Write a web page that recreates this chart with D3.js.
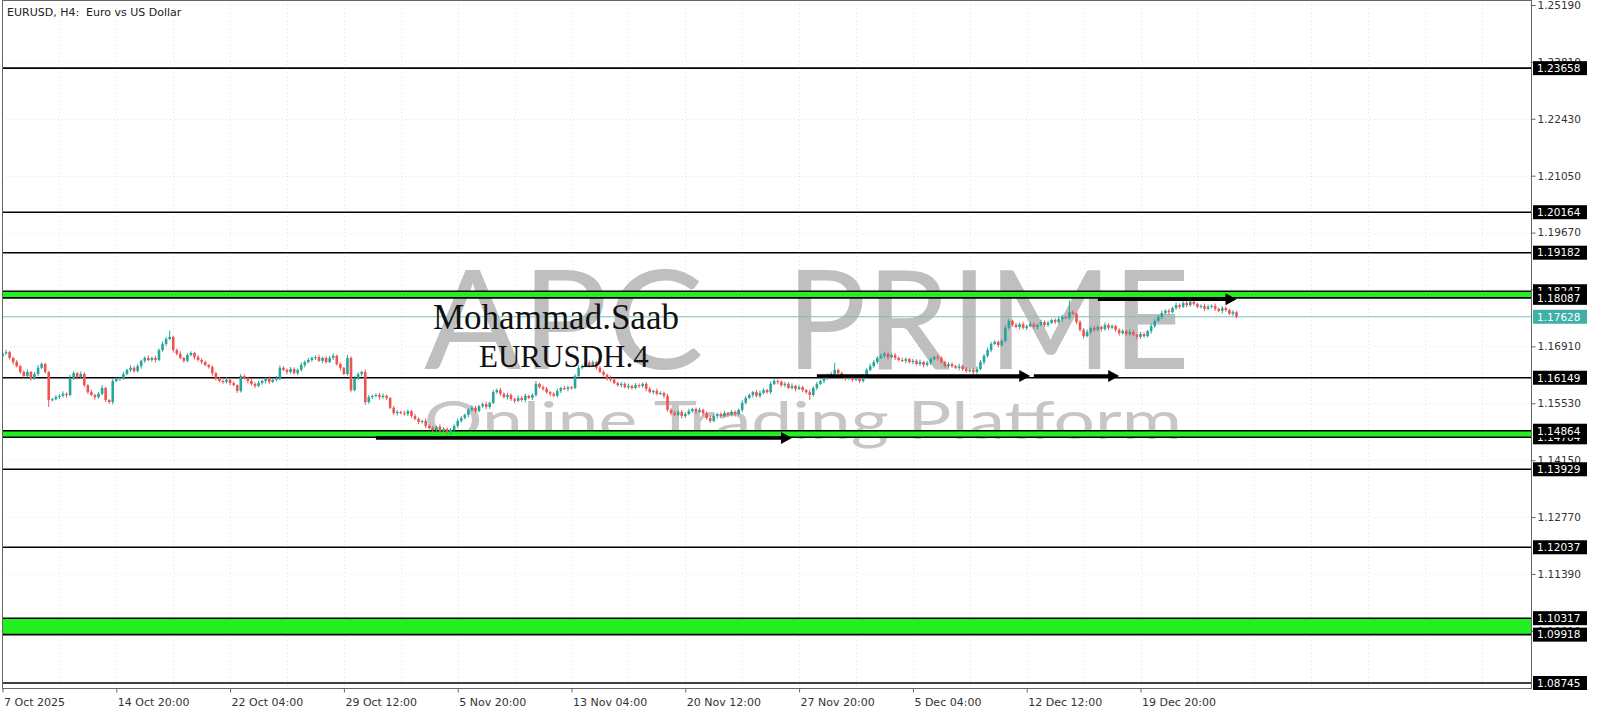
<!DOCTYPE html>
<html>
<head>
<meta charset="utf-8">
<script src="https://cdn.jsdelivr.net/npm/d3@7"></script>
<style>
  body { margin: 0; background: #fff; }
  svg { display: block; font-family: "DejaVu Sans", sans-serif; }
</style>
</head>
<body>
<div id="chart"></div>
<script>
// EURUSD H4 closes
var closes = [
  1.1675,1.1677,1.1663,1.1653,1.1643,1.1629,1.1619,1.1629,1.1614,1.1624,1.1639,1.1648,1.1629,1.1561,1.1563,1.1568,1.1571,1.1576,1.1573,1.1614,
  1.1626,1.1617,1.1624,1.1597,1.1580,1.1573,1.1568,1.1576,1.1590,1.1561,1.1556,1.1607,1.1612,1.1614,1.1624,1.1634,1.1639,1.1631,1.1643,1.1656,
  1.1663,1.1658,1.1663,1.1658,1.1682,1.1697,1.1709,1.1714,1.1682,1.1673,1.1663,1.1656,1.1670,1.1675,1.1665,1.1658,1.1653,1.1646,1.1641,1.1626,
  1.1612,1.1607,1.1605,1.1610,1.1602,1.1597,1.1583,1.1619,1.1614,1.1607,1.1600,1.1595,1.1602,1.1607,1.1612,1.1605,1.1610,1.1614,1.1639,1.1634,
  1.1629,1.1636,1.1626,1.1634,1.1646,1.1653,1.1658,1.1663,1.1665,1.1656,1.1663,1.1653,1.1663,1.1668,1.1648,1.1639,1.1624,1.1663,1.1585,1.1614,
  1.1624,1.1629,1.1556,1.1568,1.1571,1.1573,1.1568,1.1571,1.1566,1.1542,1.1529,1.1532,1.1529,1.1527,1.1534,1.1522,1.1515,1.1508,1.1510,1.1498,
  1.1493,1.1488,1.1496,1.1486,1.1491,1.1483,1.1488,1.1498,1.1510,1.1517,1.1525,1.1537,1.1542,1.1534,1.1546,1.1551,1.1544,1.1554,1.1580,1.1585,
  1.1576,1.1568,1.1573,1.1563,1.1559,1.1566,1.1561,1.1571,1.1566,1.1573,1.1600,1.1592,1.1588,1.1580,1.1576,1.1571,1.1583,1.1590,1.1588,1.1592,
  1.1590,1.1619,1.1639,1.1643,1.1651,1.1646,1.1653,1.1639,1.1629,1.1622,1.1614,1.1610,1.1602,1.1597,1.1600,1.1592,1.1595,1.1590,1.1597,1.1595,
  1.1600,1.1588,1.1580,1.1583,1.1576,1.1578,1.1571,1.1537,1.1529,1.1525,1.1532,1.1522,1.1527,1.1534,1.1539,1.1532,1.1537,1.1529,1.1517,1.1510,
  1.1522,1.1527,1.1522,1.1529,1.1525,1.1532,1.1527,1.1537,1.1554,1.1566,1.1573,1.1580,1.1571,1.1578,1.1585,1.1580,1.1600,1.1607,1.1605,1.1597,
  1.1600,1.1590,1.1595,1.1588,1.1592,1.1585,1.1580,1.1573,1.1590,1.1600,1.1607,1.1614,1.1619,1.1624,1.1634,1.1626,1.1619,1.1614,1.1617,1.1610,
  1.1614,1.1607,1.1619,1.1634,1.1643,1.1653,1.1663,1.1668,1.1673,1.1665,1.1670,1.1663,1.1658,1.1656,1.1660,1.1653,1.1656,1.1648,1.1653,1.1646,
  1.1651,1.1660,1.1665,1.1663,1.1653,1.1643,1.1648,1.1643,1.1639,1.1643,1.1636,1.1631,1.1634,1.1629,1.1636,1.1653,1.1668,1.1682,1.1697,1.1702,
  1.1694,1.1704,1.1736,1.1753,1.1743,1.1738,1.1745,1.1736,1.1740,1.1745,1.1738,1.1743,1.1750,1.1743,1.1748,1.1755,1.1750,1.1757,1.1762,1.1760,
  1.1774,1.1770,1.1750,1.1731,1.1716,1.1726,1.1736,1.1731,1.1738,1.1733,1.1743,1.1736,1.1740,1.1731,1.1723,1.1728,1.1721,1.1726,1.1719,1.1714,
  1.1721,1.1716,1.1728,1.1740,1.1753,1.1762,1.1772,1.1777,1.1774,1.1784,1.1791,1.1787,1.1796,1.1791,1.1799,1.1794,1.1787,1.1789,1.1782,1.1787,
  1.1789,1.1782,1.1777,1.1784,1.1779,1.1770,1.1774,1.1763
];
var firstOpen = 1.1666;

// wick lengths in pips (0.0001), above and below the body
var wickUp = [
  4,6,3,2,5,3,4,6,2,5,7,4,3,2,3,5,4,6,3,8,
  5,3,6,4,2,5,3,4,7,3,2,6,4,3,5,3,6,4,5,3,
  4,6,3,5,4,6,5,15,3,4,6,2,5,4,3,5,4,3,2,4,
  3,5,4,6,3,4,2,5,4,3,6,4,5,3,4,6,3,5,6,4,
  3,5,4,3,6,4,5,3,4,6,3,4,5,6,3,4,2,7,4,5,
  4,3,6,5,3,4,5,6,3,2,4,5,3,6,4,3,5,4,3,6,
  4,5,3,6,4,3,5,4,6,5,3,4,6,5,3,4,6,3,5,4,
  6,3,5,4,3,6,4,5,3,4,7,3,4,5,3,4,6,3,5,4,
  3,5,6,4,7,5,4,3,5,4,3,6,4,3,5,4,6,3,5,4,
  3,5,4,3,6,4,3,5,4,6,3,5,4,6,3,4,5,3,4,6,
  5,3,4,6,3,5,4,3,6,5,4,3,5,6,4,3,6,5,4,3,
  5,4,6,3,5,4,3,6,4,5,3,4,6,5,17,3,4,5,3,6,
  4,3,5,4,6,5,4,6,5,3,4,5,3,6,4,3,5,4,6,3,
  5,4,3,6,4,3,5,4,3,6,4,5,3,4,6,5,4,6,5,4,
  3,5,6,4,3,5,4,6,3,5,4,3,6,4,5,3,4,6,5,4,
  29,4,3,5,4,6,3,5,4,3,6,4,5,3,4,5,3,6,4,3,
  5,4,3,6,4,5,6,4,5,3,6,4,5,7,4,5,3,4,6,5,
  4,6,3,5,4,3,5,3
];
var wickDown = [
  3,5,4,6,3,5,4,3,6,4,5,3,4,17,4,3,5,4,6,3,
  4,6,3,5,4,3,6,4,3,5,4,6,3,5,4,3,5,4,3,6,
  5,3,4,6,3,4,5,3,6,4,3,5,4,3,6,4,5,3,4,6,
  4,3,5,4,6,3,5,4,3,6,4,5,3,4,6,5,3,4,5,3,
  6,4,3,5,4,6,3,4,5,3,6,4,3,5,4,6,3,4,5,3,
  4,6,7,4,5,3,6,4,5,3,4,6,3,4,5,4,3,6,4,5,
  3,6,4,5,3,4,6,3,5,4,3,6,4,5,3,4,6,5,3,4,
  5,3,6,4,5,3,4,6,3,5,4,3,5,4,6,3,4,5,3,6,
  4,3,5,4,3,6,4,5,3,4,6,5,3,4,6,3,5,4,3,5,
  4,6,3,5,4,3,6,4,5,3,4,6,5,3,4,5,3,6,4,5,
  3,6,4,3,5,4,6,3,5,4,3,6,4,5,3,4,5,3,6,4,
  5,3,4,6,3,5,4,12,4,5,3,6,4,3,5,4,3,6,4,5,
  3,5,4,6,3,4,5,3,4,6,3,5,4,3,6,4,5,3,4,6,
  4,5,3,6,4,3,5,4,3,6,5,4,3,5,4,3,6,4,5,3,
  6,4,3,5,4,3,6,4,5,3,4,6,3,5,4,3,5,4,6,3,
  4,3,5,4,6,3,5,4,3,6,4,5,3,4,6,3,5,4,3,6,
  5,4,3,6,4,3,5,4,6,3,4,5,3,6,4,5,3,4,5,3,
  4,5,3,6,4,3,5,4
];

var timeTickBars = [0, 32, 64, 96, 128, 160, 192, 224, 256, 288, 320];
var timeTickLabels = ["7 Oct 2025", "14 Oct 20:00", "22 Oct 04:00", "29 Oct 12:00", "5 Nov 20:00",
  "13 Nov 04:00", "20 Nov 12:00", "27 Nov 20:00", "5 Dec 04:00", "12 Dec 12:00", "19 Dec 20:00"];

var priceTicks = [1.25190, 1.23810, 1.22430, 1.21050, 1.19670, 1.18290, 1.16910,
  1.15530, 1.14150, 1.12770, 1.11390, 1.10010];

// horizontal levels, in drawing order (later ones cover earlier labels)
var levels = [1.23658, 1.20164, 1.19182, 1.18247, 1.18087, 1.16149, 1.14704, 1.14864,
  1.13929, 1.12037, 1.10317, 1.09918, 1.08745];
var bandLow = [1.18087, 1.14704, 1.09918];
var bandHigh = [1.18247, 1.14864, 1.10317];
var lastPrice = 1.17628;

// trend arrows: start bar, end bar, price
var arrowFrom = [105, 229, 290, 308];
var arrowTo = [222, 289, 314, 347];
var arrowPrice = [1.1469, 1.1619, 1.1619, 1.1805];

var W = 1600, H = 711;
var plot = { left: 2, right: 1531, top: 0, bottom: 688 };

var x = d3.scaleLinear().domain([0, 320]).range([2.5, 1140.5]);
var y = d3.scaleLinear().domain([1.08745, 1.25190]).range([683, 5]);

var bars = closes.map(function(c, i) {
  var o = i === 0 ? firstOpen : closes[i - 1];
  return {
    i: i, o: o, c: c,
    h: Math.max(o, c) + wickUp[i] / 10000,
    l: Math.min(o, c) - wickDown[i] / 10000
  };
});

var svg = d3.select("#chart").append("svg")
  .attr("width", W).attr("height", H);

svg.append("rect").attr("width", W).attr("height", H).attr("fill", "#fff");

svg.append("clipPath").attr("id", "plotclip").append("rect")
  .attr("x", plot.left).attr("y", plot.top)
  .attr("width", plot.right - plot.left).attr("height", plot.bottom - plot.top);

// grid
var grid = svg.append("g").attr("stroke", "#e4e4e4").attr("stroke-dasharray", "1,3");
grid.selectAll("line.h").data(priceTicks).enter().append("line")
  .attr("x1", plot.left).attr("x2", plot.right)
  .attr("y1", function(d) { return Math.round(y(d)) + 0.5; })
  .attr("y2", function(d) { return Math.round(y(d)) + 0.5; });
grid.selectAll("line.v").data(d3.range(16, 430, 16)).enter().append("line")
  .attr("y1", plot.top).attr("y2", plot.bottom)
  .attr("x1", function(d) { return Math.round(x(d)) + 0.5; })
  .attr("x2", function(d) { return Math.round(x(d)) + 0.5; });

// watermark
var wm = svg.append("g").style("font-family", "Lato, 'Open Sans', sans-serif");
wm.append("text").attr("x", 424).attr("y", 369).style("font-size", "138px").style("font-weight", 400)
  .attr("fill", "#bfbfbf").attr("textLength", 280).attr("lengthAdjust", "spacingAndGlyphs").text("APC");
wm.append("text").attr("x", 786).attr("y", 369).style("font-size", "138px").style("font-weight", 400)
  .attr("fill", "#bfbfbf").attr("textLength", 404).attr("lengthAdjust", "spacingAndGlyphs").text("PRIME");
wm.append("text").attr("x", 424).attr("y", 439).style("font-size", "52px").style("font-weight", 400)
  .attr("fill", "#c6c6c6").attr("textLength", 758).attr("lengthAdjust", "spacingAndGlyphs")
  .text("Online Trading Platform");

var chart = svg.append("g").attr("clip-path", "url(#plotclip)");

// green zones
chart.selectAll("rect.band").data(bandLow).enter().append("rect")
  .attr("x", plot.left).attr("width", plot.right - plot.left)
  .attr("y", function(d, i) { return y(bandHigh[i]); })
  .attr("height", function(d, i) { return y(d) - y(bandHigh[i]); })
  .attr("fill", "#22ee22");

// level lines
chart.selectAll("line.level").data(levels).enter().append("line")
  .attr("x1", plot.left).attr("x2", plot.right)
  .attr("y1", function(d) { return y(d); }).attr("y2", function(d) { return y(d); })
  .attr("stroke", "#000").attr("stroke-width", 1.6);

// last price line
chart.append("line")
  .attr("x1", plot.left).attr("x2", plot.right)
  .attr("y1", y(lastPrice)).attr("y2", y(lastPrice))
  .attr("stroke", "#74c4bc").attr("stroke-width", 1);

// candles
var candle = chart.append("g").selectAll("g").data(bars).enter().append("g")
  .attr("fill", function(d) { return d.c >= d.o ? "#26a69a" : "#ef5350"; })
  .attr("stroke", function(d) { return d.c >= d.o ? "#26a69a" : "#ef5350"; });
candle.append("line")
  .attr("x1", function(d) { return x(d.i); }).attr("x2", function(d) { return x(d.i); })
  .attr("y1", function(d) { return y(d.h); }).attr("y2", function(d) { return y(d.l); })
  .attr("stroke-width", 1);
candle.append("rect")
  .attr("stroke", "none")
  .attr("x", function(d) { return x(d.i) - 1.3; }).attr("width", 2.6)
  .attr("y", function(d) { return y(Math.max(d.o, d.c)); })
  .attr("height", function(d) { return Math.max(1, Math.abs(y(d.o) - y(d.c))); });

// arrows
var arrows = chart.selectAll("g.arrow").data(arrowFrom).enter().append("g");
arrows.append("line")
  .attr("x1", function(d) { return x(d); })
  .attr("x2", function(d, i) { return x(arrowTo[i]) - 8; })
  .attr("y1", function(d, i) { return y(arrowPrice[i]); })
  .attr("y2", function(d, i) { return y(arrowPrice[i]); })
  .attr("stroke", "#000").attr("stroke-width", 3.5);
arrows.append("path")
  .attr("d", function(d, i) {
    var tx = x(arrowTo[i]), ty = y(arrowPrice[i]);
    return "M" + tx + "," + ty + "L" + (tx - 11) + "," + (ty - 6) + "L" + (tx - 11) + "," + (ty + 6) + "Z";
  })
  .attr("fill", "#000");

// annotation text
svg.append("text").attr("x", 433).attr("y", 329)
  .style("font-family", "'Liberation Serif', 'DejaVu Serif', serif").style("font-size", "35px").attr("fill", "#111")
  .text("Mohammad.Saab");
svg.append("text").attr("x", 479).attr("y", 367)
  .style("font-family", "'Liberation Serif', 'DejaVu Serif', serif").style("font-size", "31px").attr("fill", "#111")
  .text("EURUSDH.4");

// frame
svg.append("rect")
  .attr("x", plot.left + 0.5).attr("y", plot.top + 0.5)
  .attr("width", plot.right - plot.left).attr("height", plot.bottom - plot.top)
  .attr("fill", "none").attr("stroke", "#666");

svg.append("text").attr("x", 7).attr("y", 16).style("font-size", "11px").attr("fill", "#222")
  .style("white-space", "pre").text("EURUSD, H4:  Euro vs US Dollar");

// price axis
var yAxis = svg.append("g")
  .attr("transform", "translate(" + (plot.right + 0.5) + ",0)")
  .call(d3.axisRight(y).tickValues(priceTicks).tickFormat(d3.format(".5f")).tickSize(4).tickPadding(2));
yAxis.select(".domain").remove();
yAxis.selectAll("line").attr("stroke", "#666");
yAxis.selectAll("text").style("font-size", "10.5px").attr("fill", "#333").style("font-family", "DejaVu Sans");

// time axis
var xAxis = svg.append("g")
  .attr("transform", "translate(0," + (plot.bottom + 0.5) + ")")
  .call(d3.axisBottom(x).tickValues(timeTickBars)
    .tickFormat(function(d, i) { return timeTickLabels[i]; }).tickSize(4));
xAxis.select(".domain").remove();
xAxis.selectAll("line").attr("stroke", "#666");
xAxis.selectAll("text").style("font-size", "11px").attr("fill", "#333").style("font-family", "DejaVu Sans")
  .attr("text-anchor", "start").attr("x", 1).attr("y", 17).attr("dy", null);

// level price tags
var tags = svg.append("g").selectAll("g").data(levels).enter().append("g")
  .attr("transform", function(d) { return "translate(1533," + y(d) + ")"; });
tags.append("rect").attr("x", 0).attr("y", -7).attr("width", 54).attr("height", 14).attr("fill", "#000");
tags.append("text").attr("x", 4).attr("dy", "0.36em").style("font-size", "10.5px").attr("fill", "#fff")
  .text(function(d) { return d3.format(".5f")(d); });

var cur = svg.append("g").attr("transform", "translate(1533," + y(lastPrice) + ")");
cur.append("rect").attr("x", 0).attr("y", -7).attr("width", 54).attr("height", 14).attr("fill", "#3fb0a8");
cur.append("text").attr("x", 4).attr("dy", "0.36em").style("font-size", "10.5px").attr("fill", "#fff")
  .text(d3.format(".5f")(lastPrice));
</script>
</body>
</html>
